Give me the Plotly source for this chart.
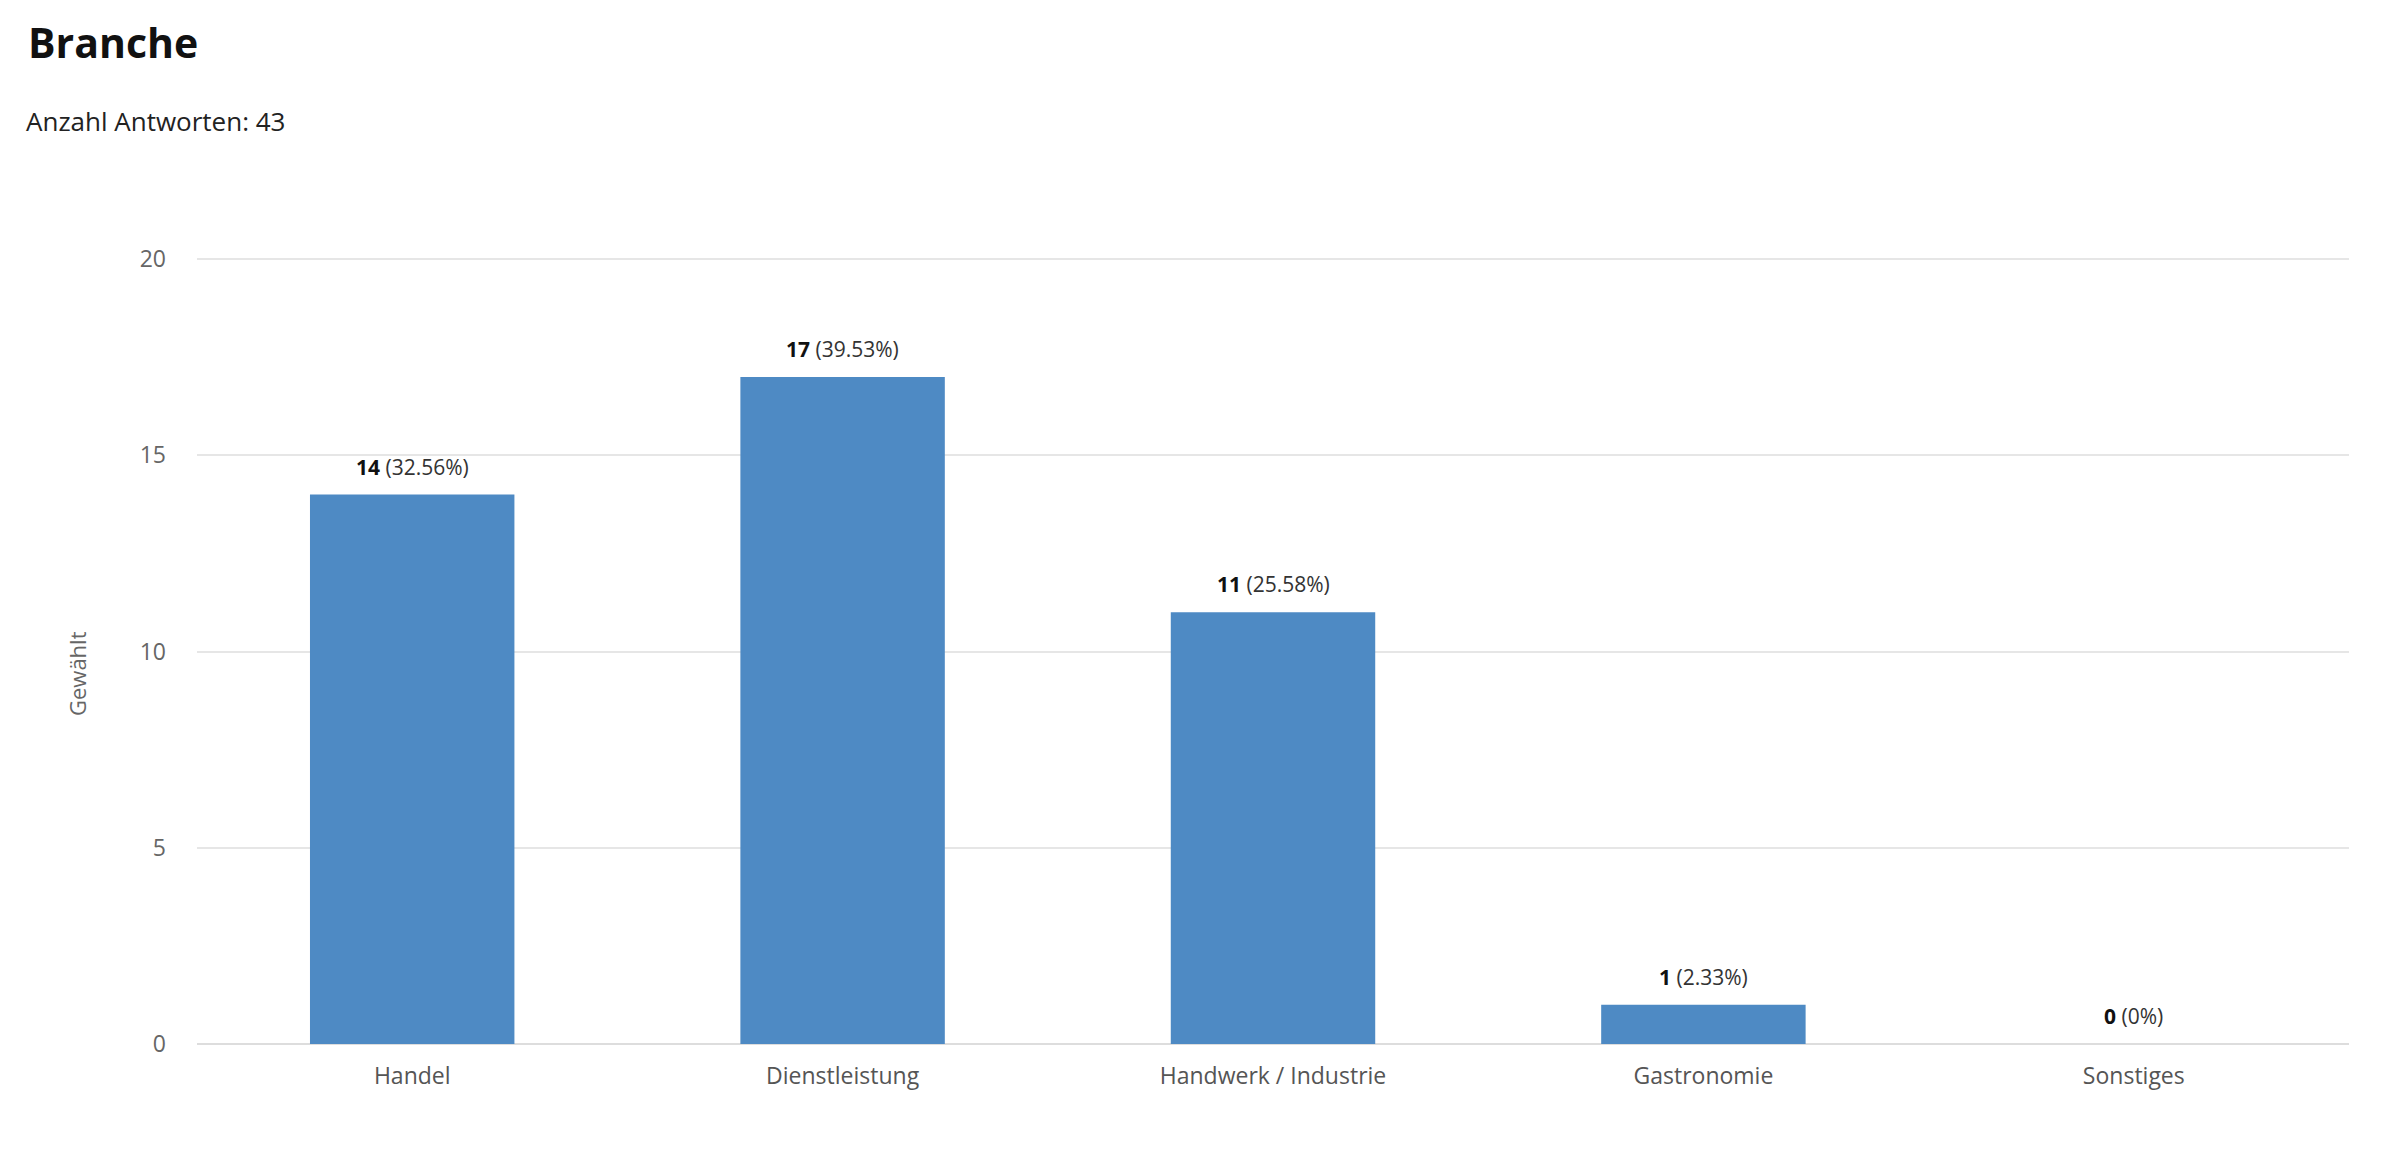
import plotly.graph_objects as go

categories = ["Handel", "Dienstleistung", "Handwerk / Industrie", "Gastronomie", "Sonstiges"]
counts = [14, 17, 11, 1, 0]
percent_labels = ["32.56%", "39.53%", "25.58%", "2.33%", "0%"]
y_ticks = [0, 5, 10, 15, 20]

title_text = "Branche"
subtitle_text = "Anzahl Antworten: 43"
y_title = "Gewählt"

W, H = 2407, 1150
L, R, T, B = 197, 58, 258, 106
pw, ph = W - L - R, H - T - B

def px_x(x):
    return (x - L) / pw

def px_y(y):
    return (H - B - y) / ph

fig = go.Figure()
fig.add_trace(go.Bar(
    x=categories, y=counts, width=0.475,
    marker=dict(color="#4e8ac4", line=dict(width=0)),
    hoverinfo="skip",
))

annotations = []
for c, v, p in zip(categories, counts, percent_labels):
    annotations.append(dict(
        x=c, y=v, xref="x", yref="y", yanchor="bottom", yshift=12,
        text=f"<b>{v}</b> <span style='color:#333'>({p})</span>",
        showarrow=False, font=dict(family="Open Sans", size=21, color="#111"),
    ))

annotations.append(dict(
    x=px_x(26), y=px_y(42), xref="paper", yref="paper", xanchor="left", yanchor="middle",
    text=f"<b>{title_text}</b>", showarrow=False,
    font=dict(family="Open Sans", size=41, color="#111"),
))
annotations.append(dict(
    x=px_x(24), y=px_y(121), xref="paper", yref="paper", xanchor="left", yanchor="middle",
    text=subtitle_text, showarrow=False,
    font=dict(family="Open Sans", size=26, color="#222"),
))
annotations.append(dict(
    x=px_x(77), y=px_y(674), xref="paper", yref="paper", xanchor="center", yanchor="middle",
    text=y_title, textangle=-90, showarrow=False,
    font=dict(family="Open Sans", size=22, color="#666"),
))

fig.update_layout(
    width=W, height=H,
    margin=dict(l=L, r=R, t=T, b=B, autoexpand=False),
    paper_bgcolor="white", plot_bgcolor="white",
    showlegend=False,
    annotations=annotations,
    xaxis=dict(
        showgrid=False, showline=False, zeroline=False,
        tickfont=dict(family="Open Sans", size=23, color="#555"),
        ticks="", ticklabelstandoff=16,
    ),
    yaxis=dict(
        range=[0, 20.03], tickvals=y_ticks, showgrid=True, gridcolor="#e6e6e6", gridwidth=1.5,
        zeroline=True, zerolinecolor="#dddddd", zerolinewidth=2,
        showline=False, ticks="",
        tickfont=dict(family="Open Sans", size=23, color="#666"),
        ticklabelstandoff=30,
    ),
)

fig.write_html("out.html")
